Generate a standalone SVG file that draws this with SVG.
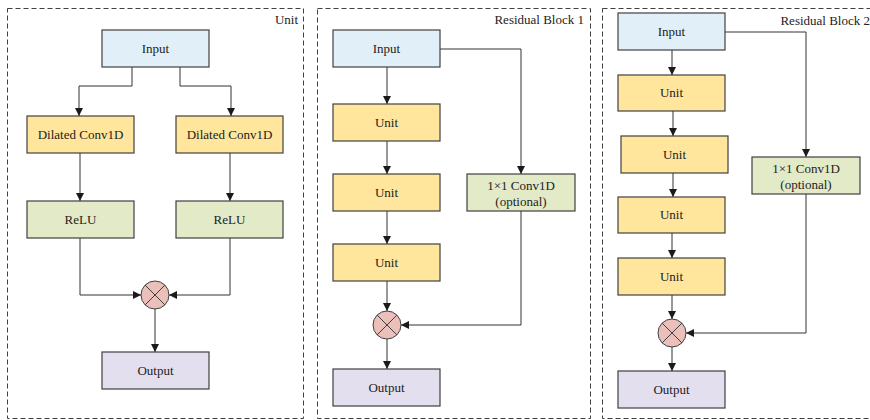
<svg xmlns="http://www.w3.org/2000/svg" width="870" height="420" viewBox="0 0 870 420">
<defs>
<marker id="ah" viewBox="0 0 10 10" refX="10" refY="5" markerWidth="8" markerHeight="8" markerUnits="userSpaceOnUse" orient="auto">
<path d="M0,0 L10,5 L0,10 z" fill="#1a1a1a"/>
</marker>
<style>
.panel{fill:none;stroke:#404040;stroke-width:1;stroke-dasharray:5,3}
.box{stroke:#404040;stroke-width:1.2}
.in{fill:#E1F0F8}
.y{fill:#FFE69C}
.g{fill:#E2EAC8}
.p{fill:#E4DFEE}
.op{fill:#EBC0BA;stroke:#404040;stroke-width:1}
.x{stroke:#404040;stroke-width:1}
.c{fill:none;stroke:#333;stroke-width:1;marker-end:url(#ah)}
text{font-family:"Liberation Serif","Times New Roman",serif;font-size:13px;fill:#222}
.t{text-anchor:middle}
.lbl{text-anchor:end}
</style>
</defs>
<rect width="870" height="420" fill="#fff"/>
<g id="panels">
<rect class="panel" x="7.5" y="8.5" width="296" height="410"/>
<rect class="panel" x="317.5" y="8.5" width="273" height="410"/>
<rect class="panel" x="602.5" y="8.5" width="272" height="410"/>
<text class="lbl" x="298" y="24">Unit</text>
<text class="lbl" x="584" y="24">Residual Block 1</text>
<text class="lbl" x="870" y="25">Residual Block 2</text>
</g>
<g id="connectors">
<path class="c" d="M132,67 V86 H79 V116"/>
<path class="c" d="M180,67 V86 H231 V116"/>
<path class="c" d="M80,153 V201"/>
<path class="c" d="M230,153 V201"/>
<path class="c" d="M80,238 V295 H141"/>
<path class="c" d="M230,238 V295 H169"/>
<path class="c" d="M155,309 V352"/>
<path class="c" d="M387,67 V104"/>
<path class="c" d="M387,141 V174"/>
<path class="c" d="M387,211 V244"/>
<path class="c" d="M387,281 V311"/>
<path class="c" d="M387,339 V369"/>
<path class="c" d="M440,49 H521 V174"/>
<path class="c" d="M521,211 V325 H401"/>
<path class="c" d="M672,50 V75"/>
<path class="c" d="M673,111 V136"/>
<path class="c" d="M673,173 V197"/>
<path class="c" d="M672,233 V258"/>
<path class="c" d="M672,295 V319"/>
<path class="c" d="M672,347 V371"/>
<path class="c" d="M725,32 H806 V157"/>
<path class="c" d="M806,194 V333 H686"/>
</g>
<g id="u-input"><rect class="box in" x="102" y="30" width="107" height="37"/><text class="t" x="155.5" y="53">Input</text></g>
<g id="u-conv1"><rect class="box y" x="27" y="116" width="107" height="37"/><text class="t" x="80.5" y="139">Dilated Conv1D</text></g>
<g id="u-conv2"><rect class="box y" x="176" y="116" width="107" height="37"/><text class="t" x="229.5" y="139">Dilated Conv1D</text></g>
<g id="u-relu1"><rect class="box g" x="27" y="201" width="107" height="37"/><text class="t" x="80.5" y="224">ReLU</text></g>
<g id="u-relu2"><rect class="box g" x="176" y="201" width="107" height="37"/><text class="t" x="229.5" y="224">ReLU</text></g>
<g id="u-op"><circle class="op" cx="155" cy="295" r="14"/><path class="x" d="M145.1,285.1 L164.9,304.9 M164.9,285.1 L145.1,304.9"/></g>
<g id="u-output"><rect class="box p" x="102" y="352" width="107" height="37"/><text class="t" x="155.5" y="375">Output</text></g>

<g id="r1-input"><rect class="box in" x="333" y="30" width="107" height="37"/><text class="t" x="386.5" y="53">Input</text></g>
<g id="r1-unit1"><rect class="box y" x="333" y="104" width="107" height="37"/><text class="t" x="386.5" y="127">Unit</text></g>
<g id="r1-unit2"><rect class="box y" x="333" y="174" width="107" height="37"/><text class="t" x="386.5" y="197">Unit</text></g>
<g id="r1-unit3"><rect class="box y" x="333" y="244" width="107" height="37"/><text class="t" x="386.5" y="267">Unit</text></g>
<g id="r1-conv"><rect class="box g" x="467" y="174" width="108" height="37"/><text class="t" x="521" y="190">1×1 Conv1D</text><text class="t" x="521" y="206">(optional)</text></g>
<g id="r1-op"><circle class="op" cx="387" cy="325" r="14"/><path class="x" d="M377.1,315.1 L396.9,334.9 M396.9,315.1 L377.1,334.9"/></g>
<g id="r1-output"><rect class="box p" x="333" y="369" width="107" height="37"/><text class="t" x="386.5" y="392">Output</text></g>

<g id="r2-input"><rect class="box in" x="618" y="13" width="107" height="37"/><text class="t" x="671.5" y="36">Input</text></g>
<g id="r2-unit1"><rect class="box y" x="618" y="75" width="107" height="36"/><text class="t" x="671.5" y="97">Unit</text></g>
<g id="r2-unit2"><rect class="box y" x="621" y="136" width="107" height="37"/><text class="t" x="674.5" y="159">Unit</text></g>
<g id="r2-unit3"><rect class="box y" x="618" y="197" width="107" height="36"/><text class="t" x="671.5" y="219">Unit</text></g>
<g id="r2-unit4"><rect class="box y" x="618" y="258" width="107" height="37"/><text class="t" x="671.5" y="281">Unit</text></g>
<g id="r2-conv"><rect class="box g" x="752" y="157" width="108" height="37"/><text class="t" x="806" y="173">1×1 Conv1D</text><text class="t" x="806" y="189">(optional)</text></g>
<g id="r2-op"><circle class="op" cx="672" cy="333" r="14"/><path class="x" d="M662.1,323.1 L681.9,342.9 M681.9,323.1 L662.1,342.9"/></g>
<g id="r2-output"><rect class="box p" x="618" y="371" width="107" height="37"/><text class="t" x="671.5" y="394">Output</text></g>
</svg>
